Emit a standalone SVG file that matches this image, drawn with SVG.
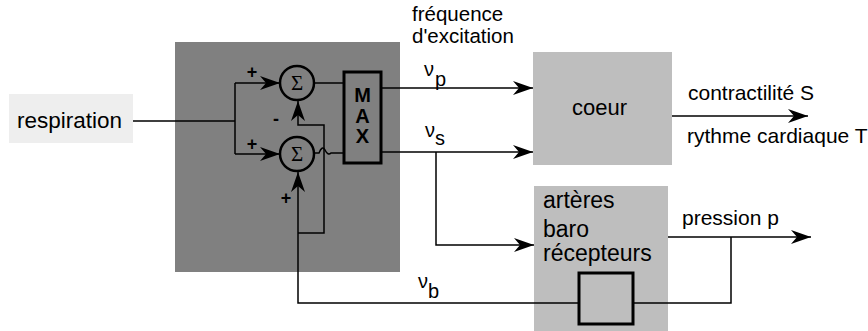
<svg xmlns="http://www.w3.org/2000/svg" width="868" height="331" viewBox="0 0 868 331">
<style>
text{font-family:"Liberation Sans",Arial,sans-serif;fill:#000}
.lbl{font-size:21px}
.big{font-size:22.5px}
.sg{font-family:"Liberation Serif","Times New Roman",serif;font-size:21px;text-anchor:middle}
.max{font-size:20px;font-weight:bold;text-anchor:middle}
.pm{font-size:18px;font-weight:bold;text-anchor:middle}
.ln{fill:none;stroke:#000;stroke-width:1.5}
.thick{fill:none;stroke:#000;stroke-width:2.5}
</style>
<defs>
<marker id="ah" markerWidth="22" markerHeight="14" refX="20" refY="7" orient="auto" markerUnits="userSpaceOnUse">
<path d="M20,7 L0,0 L6,7 L0,14 Z" fill="#000"/>
</marker>
</defs>
<g id="respiration">
<rect x="9" y="94" width="124" height="49" fill="#eeeeee"/>
<text class="big" x="17" y="128">respiration</text>
</g>
<g id="controller">
<rect x="175" y="42" width="225" height="230" fill="#808080"/>
</g>
<g id="sum1">
<circle cx="297" cy="83" r="17" fill="none" stroke="#000" stroke-width="2.5"/>
<text class="sg" x="297" y="90">Σ</text>
</g>
<g id="sum2">
<circle cx="297" cy="154" r="17" fill="none" stroke="#000" stroke-width="2.5"/>
<text class="sg" x="297" y="161">Σ</text>
</g>
<g id="max">
<rect x="344" y="72" width="37" height="91" fill="none" stroke="#000" stroke-width="3"/>
<text class="max" x="362.5" y="102">M</text>
<text class="max" x="362.5" y="123">A</text>
<text class="max" x="362.5" y="143">X</text>
</g>
<g id="coeur">
<rect x="533" y="52" width="139" height="113" fill="#bebebe"/>
<text class="big" x="572" y="115" style="font-size:22px">coeur</text>
</g>
<g id="arteres">
<rect x="534" y="186" width="134" height="145" fill="#bebebe"/>
<text class="big" x="543" y="208" style="font-size:23px">artères</text>
<text class="big" x="543" y="237" style="font-size:23px">baro</text>
<text class="big" x="543" y="261" style="font-size:23px">récepteurs</text>
<rect x="579" y="273" width="54" height="51" fill="none" stroke="#000" stroke-width="3"/>
</g>
<g id="connectors">
<path class="ln" d="M133,121 H235 M235,83 V154"/>
<path class="ln" d="M235,83 H280" marker-end="url(#ah)"/>
<path class="ln" d="M235,154 H280" marker-end="url(#ah)"/>
<path class="ln" d="M314,83 H344"/>
<path class="ln" d="M314,153 H319 Q322,145 325,150 Q328,156 331,153 H344"/>
<path class="ln" d="M381,88 H533" marker-end="url(#ah)"/>
<path class="ln" d="M381,152 H533" marker-end="url(#ah)"/>
<path class="ln" d="M436,152 V245 H534" marker-end="url(#ah)"/>
<path class="ln" d="M672,116 H808" marker-end="url(#ah)"/>
<path class="ln" d="M668,237 H811" marker-end="url(#ah)"/>
<path class="ln" d="M731,237 V303 H633"/>
<path class="ln" d="M579,303 H298 V172" marker-end="url(#ah)"/>
<path class="ln" d="M298,233 H324 V125 H298 V101" marker-end="url(#ah)"/>
</g>
<g id="labels">
<text class="pm" x="252" y="78">+</text>
<text class="pm" x="276" y="125">-</text>
<text class="pm" x="252" y="150">+</text>
<text class="pm" x="286" y="204">+</text>
<text class="lbl" x="412" y="21" style="font-size:20.5px">fréquence</text>
<text class="lbl" x="412" y="43" style="font-size:20.5px">d'excitation</text>
<text class="lbl" x="424" y="76" style="font-size:20px">ν</text>
<text class="lbl" x="435" y="86" style="font-size:20px">p</text>
<text class="lbl" x="425" y="137" style="font-size:20px">ν</text>
<text class="lbl" x="435" y="145" style="font-size:20px">s</text>
<text class="lbl" x="418" y="288" style="font-size:20px">ν</text>
<text class="lbl" x="428" y="298" style="font-size:20px">b</text>
<text class="lbl" x="688" y="100">contractilité S</text>
<text class="lbl" x="687" y="143">rythme cardiaque T</text>
<text class="lbl" x="682" y="225">pression p</text>
</g>
</svg>
